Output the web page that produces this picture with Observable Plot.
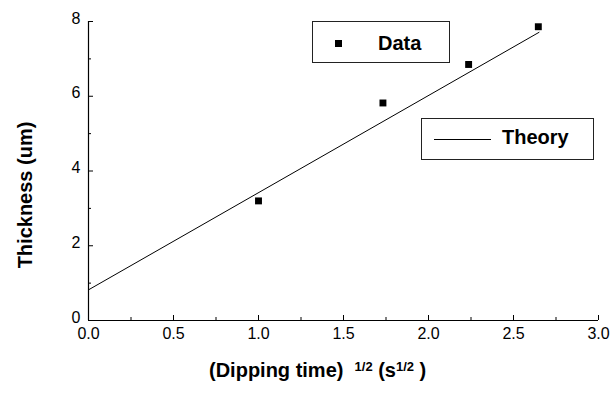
<!DOCTYPE html>
<html><head><meta charset="utf-8">
<script src="https://cdn.jsdelivr.net/npm/d3@7"></script>
<script src="https://cdn.jsdelivr.net/npm/@observablehq/plot@0.6"></script>
<style>
body{margin:0;background:#fff;}
#wrap{position:relative;width:611px;height:393px;font-family:"Liberation Sans",Arial,sans-serif;color:#000;}
#wrap svg{position:absolute;left:0;top:0;}
.box{position:absolute;border:1px solid #222;background:#fff;box-sizing:border-box;}
.ltext{position:absolute;font-weight:bold;font-size:20px;line-height:20px;white-space:nowrap;}
.ytitle{position:absolute;font-weight:bold;font-size:20px;line-height:20px;white-space:nowrap;transform:translate(-50%,-50%) rotate(-90deg);}
.xtitle{position:absolute;font-weight:bold;font-size:20px;line-height:20px;white-space:nowrap;}
.xtitle sup{font-size:13px;vertical-align:top;line-height:13px;position:relative;top:0px;}
</style></head><body><div id="wrap"></div>
<script>
// Data
const dipX = [1.0, 1.732, 2.236, 2.646];
const thickness = [3.2, 5.82, 6.85, 7.86];
const theoryX = [0, 2.65];
const theoryY = [0.82, 7.71];
// Axis ticks
const xMajor = [0, 0.5, 1.0, 1.5, 2.0, 2.5, 3.0];
const xMinor = [0.25, 0.75, 1.25, 1.75, 2.25, 2.75];
const xTickLabels = ["0.0", "0.5", "1.0", "1.5", "2.0", "2.5", "3.0"];
const yMajor = [0, 2, 4, 6, 8];
const yMinor = [1, 3, 5, 7];
const yTickLabels = ["0", "2", "4", "6", "8"];
const legendLabels = ["Data", "Theory"];

const points = dipX.map((x, i) => ({x, y: thickness[i]}));
const theory = theoryX.map((x, i) => ({x, y: theoryY[i]}));

const W = 611, H = 393, mL = 88, mR = 13, mT = 21, mB = 73;
const innerW = W - mL - mR, innerH = H - mT - mB;

const chart = Plot.plot({
  width: W, height: H,
  marginLeft: mL, marginRight: mR, marginTop: mT, marginBottom: mB,
  x: {domain: [0, 3]},
  y: {domain: [0, 8]},
  style: {fontFamily: '"Liberation Sans", Arial, sans-serif', fontSize: "16px", color: "#000", background: "transparent"},
  marks: [
    Plot.ruleX([0], {stroke: "#000", strokeWidth: 1.2}),
    Plot.ruleY([0], {stroke: "#000", strokeWidth: 1.2}),
    Plot.tickX(xMajor, {x: d => d, insetTop: innerH - 5, stroke: "#000"}),
    Plot.tickX(xMinor, {x: d => d, insetTop: innerH - 3, stroke: "#000"}),
    Plot.tickY(yMajor, {y: d => d, insetRight: innerW - 5, stroke: "#000"}),
    Plot.tickY(yMinor, {y: d => d, insetRight: innerW - 3, stroke: "#000"}),
    Plot.axisX({ticks: xMajor, tickSize: 0, tickPadding: 7, tickFormat: (d, i) => xTickLabels[i], label: null, fontSize: 16}),
    Plot.axisY({ticks: yMajor, tickSize: 0, tickPadding: 8, dy: -3, tickFormat: (d, i) => yTickLabels[i], label: null, fontSize: 16}),
    Plot.line(theory, {x: "x", y: "y", stroke: "#000", strokeWidth: 1}),
    Plot.dot(points, {x: "x", y: "y", symbol: "square", r: 3.9, fill: "#000", stroke: "none"})
  ]
});
const wrap = document.getElementById("wrap");
wrap.appendChild(chart);

function add(html) { wrap.insertAdjacentHTML("beforeend", html); }
// Legend
add(`<div class="box" style="left:312px;top:21px;width:138px;height:42px;"></div>`);
add(`<div style="position:absolute;left:335px;top:40px;width:7px;height:7px;background:#000;"></div>`);
add(`<div class="ltext" style="left:378px;top:33px;">${legendLabels[0]}</div>`);
add(`<div class="box" style="left:421px;top:118px;width:173px;height:42px;"></div>`);
add(`<div style="position:absolute;left:434px;top:139px;width:57px;height:1px;background:#000;"></div>`);
add(`<div class="ltext" style="left:502px;top:127px;">${legendLabels[1]}</div>`);
// Axis titles
add(`<div class="ytitle" style="left:25px;top:195px;">Thickness (um)</div>`);
add(`<div class="xtitle" style="left:209px;top:360px;">(Dipping time)&nbsp;&nbsp;<sup>1/2</sup> (s<sup>1/2</sup> )</div>`);
</script></body></html>
